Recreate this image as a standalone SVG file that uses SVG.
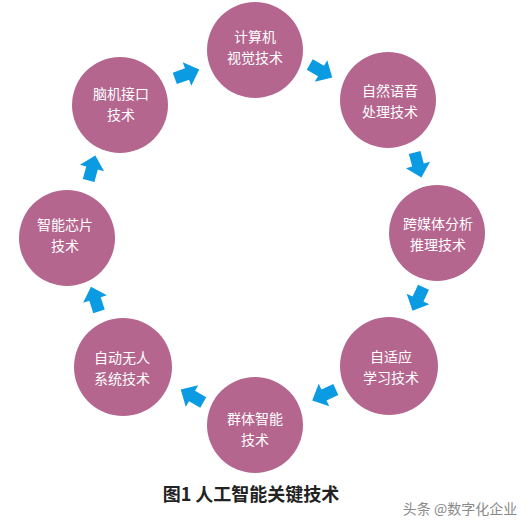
<svg xmlns="http://www.w3.org/2000/svg" width="531" height="521" viewBox="0 0 531 521">
<defs>
<style>
.c{fill:#b5668f}
.t{fill:#ffffff;font-family:"Noto Sans CJK SC","Noto Sans",sans-serif;font-size:14px;text-anchor:middle}
.a{fill:#0a9be3}
.title{fill:#222;font-family:"Noto Sans CJK SC","Noto Sans",sans-serif;font-size:18px;font-weight:bold;text-anchor:middle}
.wm{fill:#8a8a8a;font-family:"Noto Sans CJK SC","Noto Sans",sans-serif;font-size:14px;text-anchor:middle}
</style>
<path id="arr" d="M-13,-6 L0,-6 L0,-12.5 L13,0 L0,12.5 L0,6 L-13,6 Z"/>
</defs>
<rect width="531" height="521" fill="#ffffff"/>
<g id="n1"><circle class="c" cx="255" cy="50" r="48"/><text class="t" x="255" y="42">计算机</text><text class="t" x="255" y="63">视觉技术</text></g>
<g id="n2"><circle class="c" cx="388" cy="100" r="48"/><text class="t" x="390" y="96">自然语音</text><text class="t" x="390" y="117">处理技术</text></g>
<g id="n3"><circle class="c" cx="437" cy="233" r="48"/><text class="t" x="438" y="229">跨媒体分析</text><text class="t" x="438" y="250">推理技术</text></g>
<g id="n4"><circle class="c" cx="389" cy="366" r="49"/><text class="t" x="391" y="362">自适应</text><text class="t" x="391" y="383">学习技术</text></g>
<g id="n5"><circle class="c" cx="255" cy="425" r="48"/><text class="t" x="255" y="424">群体智能</text><text class="t" x="255" y="445">技术</text></g>
<g id="n6"><circle class="c" cx="123" cy="367" r="49"/><text class="t" x="122" y="363">自动无人</text><text class="t" x="122" y="384">系统技术</text></g>
<g id="n7"><circle class="c" cx="67" cy="238" r="48"/><text class="t" x="65" y="230">智能芯片</text><text class="t" x="65" y="251">技术</text></g>
<g id="n8"><circle class="c" cx="120" cy="105" r="48"/><text class="t" x="121" y="99">脑机接口</text><text class="t" x="121" y="120">技术</text></g>
<g id="connectors">
<use href="#arr" class="a" transform="translate(187,74) rotate(-20)"/>
<use href="#arr" class="a" transform="translate(321,71) rotate(30)"/>
<use href="#arr" class="a" transform="translate(418,165) rotate(75)"/>
<use href="#arr" class="a" transform="translate(418,299) rotate(115)"/>
<use href="#arr" class="a" transform="translate(324,395) rotate(155)"/>
<use href="#arr" class="a" transform="translate(192,396) rotate(-150)"/>
<use href="#arr" class="a" transform="translate(95,299) rotate(-108)"/>
<use href="#arr" class="a" transform="translate(92,168) rotate(-75)"/>
</g>
<text class="title" x="251" y="501">图1 人工智能关键技术</text>
<text class="wm" x="460" y="514">头条 @数字化企业</text>
</svg>
